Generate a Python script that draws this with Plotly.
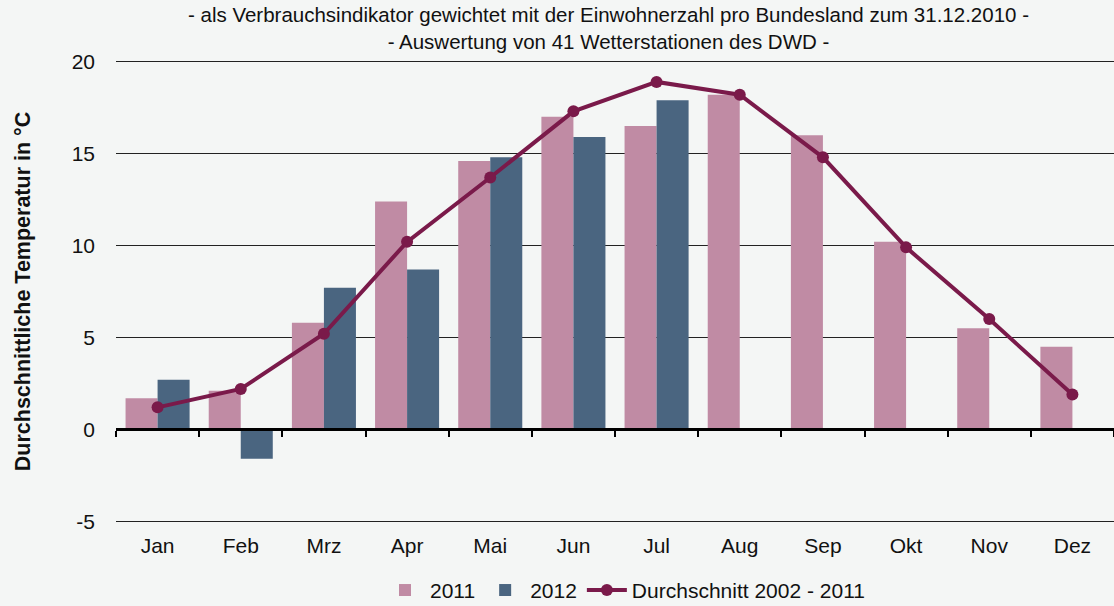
import plotly.graph_objects as go

months = ["Jan", "Feb", "Mrz", "Apr", "Mai", "Jun", "Jul", "Aug", "Sep", "Okt", "Nov", "Dez"]
temp_2011 = [1.7, 2.1, 5.8, 12.4, 14.6, 17.0, 16.5, 18.2, 16.0, 10.2, 5.5, 4.5]
temp_2012 = [2.7, -1.6, 7.7, 8.7, 14.8, 15.9, 17.9, None, None, None, None, None]
avg_2002_2011 = [1.2, 2.2, 5.2, 10.2, 13.7, 17.3, 18.9, 18.2, 14.8, 9.9, 6.0, 1.9]

y_ticks = [-5, 0, 5, 10, 15, 20]
y_ticktext = ["-5", "0", "5", "10", "15", "20"]

title_lines = ["- als Verbrauchsindikator gewichtet mit der Einwohnerzahl pro Bundesland zum 31.12.2010 -",
               "- Auswertung von 41 Wetterstationen des DWD -"]
y_title = "Durchschnittliche Temperatur in °C"

font = "Liberation Sans, Arial, sans-serif"
bg = "#f4f6f5"
c2011 = "#c08ba4"
c2012 = "#4a6580"
cavg = "#7a1a4a"

y_lo, y_hi = -5.2, 20.2

fig = go.Figure()
fig.add_trace(go.Bar(x=months, y=temp_2011, name="2011", marker=dict(color=c2011, line=dict(width=0))))
fig.add_trace(go.Bar(x=months, y=temp_2012, name="2012", marker=dict(color=c2012, line=dict(width=0))))
fig.add_trace(go.Scatter(x=months, y=avg_2002_2011, name="Durchschnitt 2002 - 2011",
                         mode="lines+markers",
                         line=dict(color=cavg, width=4),
                         marker=dict(color=cavg, size=12)))
# helper trace so the zero-line axis (with category boundary ticks) is drawn
fig.add_trace(go.Scatter(x=months, y=avg_2002_2011, xaxis="x2", mode="lines",
                         line=dict(width=0, color="rgba(0,0,0,0)"), opacity=0,
                         showlegend=False, hoverinfo="skip"))

n = len(months)
fig.update_layout(
    width=1114, height=606,
    paper_bgcolor=bg, plot_bgcolor=bg,
    margin=dict(l=116, r=0, t=58, b=81, autoexpand=False),
    barmode="group", bargap=0.23, bargroupgap=0,
    font=dict(family=font, color="#111111", size=21),
    showlegend=True,
    legend=dict(orientation="h", x=0.51, xanchor="center", y=-0.14, yanchor="middle",
                font=dict(size=21), bgcolor="rgba(0,0,0,0)", itemwidth=40, tracegroupgap=0),
    xaxis=dict(type="category", categoryorder="array", categoryarray=months,
               showline=False, showgrid=False, ticks="", ticklabelstandoff=6,
               tickfont=dict(size=21), range=[-0.5, n - 0.5]),
    xaxis2=dict(type="category", categoryorder="array", categoryarray=months,
                overlaying="x", anchor="free", position=(0 - y_lo) / (y_hi - y_lo),
                range=[-0.5, n - 0.5],
                tickson="boundaries", showticklabels=False,
                ticks="outside", ticklen=6, tickwidth=2, tickcolor="#000000",
                showline=True, linecolor="#000000", linewidth=2.5, showgrid=False,
                zeroline=False, layer="above traces"),
    yaxis=dict(range=[y_lo, y_hi], tickvals=y_ticks, ticktext=y_ticktext, showgrid=True,
               gridcolor="#222222", gridwidth=1.3, zeroline=False, layer="above traces",
               ticks="", ticklabelstandoff=20, tickfont=dict(size=21),
               title=dict(text="<b>" + y_title + "</b>", font=dict(size=21.5), standoff=35)),
)
fig.add_annotation(xref="paper", yref="paper", x=0.493, y=1.0, yshift=30, showarrow=False,
                   text="<br>".join(title_lines), yanchor="middle",
                   font=dict(size=20.5, family=font, color="#111111"))
fig.write_html("out.html", config={"displayModeBar": False},
               post_script="document.body.style.margin='0';")
